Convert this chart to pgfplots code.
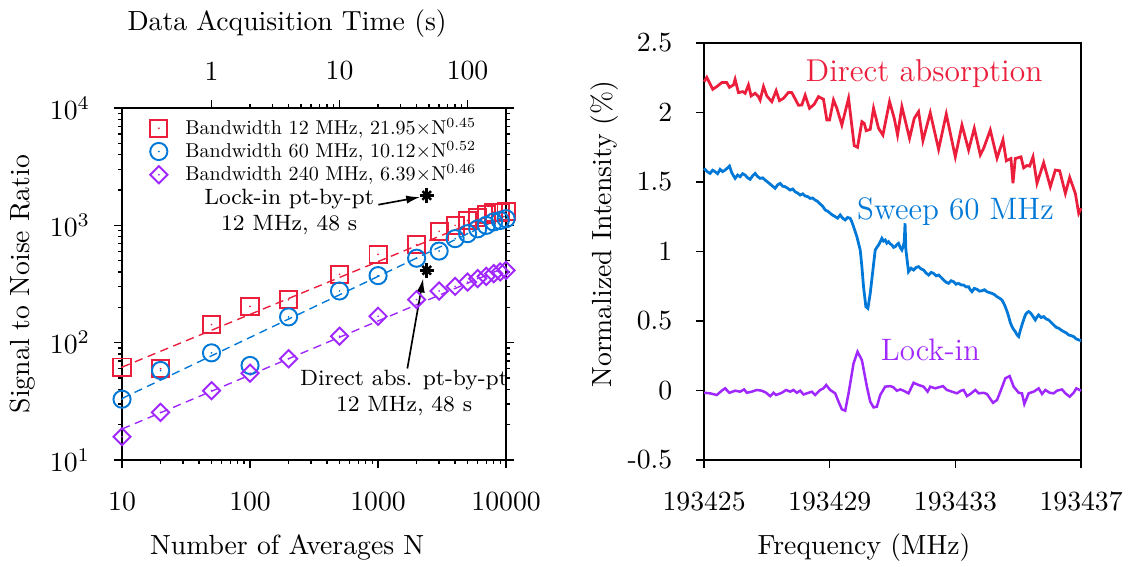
\documentclass[border=0pt]{standalone}
\usepackage{graphicx}
\usepackage{pgfplots}
\pgfplotsset{compat=1.18}
\usetikzlibrary{arrows.meta}
\definecolor{cred}{RGB}{235,30,60}
\definecolor{cblue}{RGB}{0,120,215}
\definecolor{cpurp}{RGB}{160,40,255}
\newcommand\legtxt[1]{\scalebox{0.724}{#1}}

\pgfdeclareplotmark{dsquare}{%
  \pgfpathrectangle{\pgfqpoint{-\pgfplotmarksize}{-\pgfplotmarksize}}{\pgfqpoint{2\pgfplotmarksize}{2\pgfplotmarksize}}%
  \pgfusepathqstroke
  \pgfpathcircle{\pgfpointorigin}{0.35pt}\pgfusepathqfill}
\pgfdeclareplotmark{dcircle}{%
  \pgfpathcircle{\pgfpointorigin}{\pgfplotmarksize}%
  \pgfusepathqstroke
  \pgfpathcircle{\pgfpointorigin}{0.35pt}\pgfusepathqfill}
\pgfdeclareplotmark{ddiamond}{%
  \pgfpathmoveto{\pgfqpoint{0pt}{\pgfplotmarksize}}%
  \pgfpathlineto{\pgfqpoint{\pgfplotmarksize}{0pt}}%
  \pgfpathlineto{\pgfqpoint{0pt}{-\pgfplotmarksize}}%
  \pgfpathlineto{\pgfqpoint{-\pgfplotmarksize}{0pt}}%
  \pgfpathclose
  \pgfusepathqstroke
  \pgfpathcircle{\pgfpointorigin}{0.35pt}\pgfusepathqfill}

\pgfplotsset{
  every axis/.append style={
    tick align=outside,
    major tick length=3pt,
    minor tick length=1.5pt,
    axis line style={line width=0.6pt},
    every tick/.style={black, line width=0.5pt},
    xticklabel style={yshift=-5pt},
    yticklabel style={xshift=-5pt},
  }
}

\begin{document}
\begin{tikzpicture}
\useasboundingbox (0,0) rectangle (412pt,204.4pt);

% ---------- left panel: top axis (time) ----------
\begin{axis}[
  at={(44.06pt,38.28pt)}, anchor=south west,
  scale only axis, width=138.68pt, height=127.12pt,
  xmode=log, xmin=0.2, xmax=200, ymin=0, ymax=1,
  axis x line*=top, axis y line=none,
  xtick={1,10,100}, xticklabels={1,10,100},
  xticklabel style={yshift=8.5pt},
  xlabel={Data Acquisition Time (s)},
  xlabel style={at={(axis description cs:0.43,1.240)}, anchor=center},
]
\end{axis}

% ---------- left panel: main ----------
\begin{axis}[
  at={(44.06pt,38.28pt)}, anchor=south west,
  scale only axis, width=138.68pt, height=127.12pt,
  xmode=log, ymode=log,
  xmin=10, xmax=10000, ymin=10, ymax=10000,
  xtick={10,100,1000,10000}, xticklabels={10,100,1000,10000},
  ytick={10,100,1000,10000},
  xtick pos=bottom, ytick pos=both,
  xlabel={Number of Averages N},
  ylabel={Signal to Noise Ratio},
  xlabel style={at={(axis description cs:0.43,-0.247)}, anchor=center},
  ylabel style={at={(axis description cs:-0.26,0.5)}, anchor=center},
  clip=false,
  legend style={draw=none, fill=none, at={(axis description cs:0.072,0.985)}, anchor=north west,
    row sep=-2pt, column sep=5pt, inner sep=0pt,
    nodes={inner sep=1.5pt}},
  legend cell align=left,
]
% fits
\addplot[forget plot, cred, dashed, dash pattern=on 3pt off 2pt, line width=0.5pt] coordinates {(10,61.9) (10000,1385)};
\addplot[forget plot, cblue, dashed, dash pattern=on 3pt off 2pt, line width=0.5pt] coordinates {(10,33.5) (10000,1216)};
\addplot[forget plot, cpurp, dashed, dash pattern=on 3pt off 2pt, line width=0.5pt] coordinates {(10,18.4) (10000,442)};
% data
\addplot[only marks, color=cred, mark=dsquare, mark size=3.1pt, mark options={line width=0.7pt}] coordinates {
(10,62) (20,60) (50,143) (100,204) (200,233) (500,383) (1000,566) (2000,685)
(3000,889) (4000,1000) (5000,1100) (6000,1170) (7000,1240) (8000,1290) (9000,1290) (10000,1320)};
\addlegendentry{\legtxt{Bandwidth 12 MHz, 21.95$\times$N$^{0.45}$}}
\addplot[only marks, color=cblue, mark=dcircle, mark size=3.1pt, mark options={line width=0.7pt}] coordinates {
(10,33) (20,58) (50,82) (100,64) (200,166) (500,276) (1000,373) (2000,525)
(3000,604) (4000,771) (5000,850) (6000,935) (7000,1000) (8000,1070) (9000,1100) (10000,1140)};
\addlegendentry{\legtxt{Bandwidth 60 MHz, 10.12$\times$N$^{0.52}$}}
\addplot[only marks, color=cpurp, mark=ddiamond, mark size=3.1pt, mark options={line width=0.7pt}] coordinates {
(10,15.8) (20,25.5) (50,39) (100,55) (200,73) (500,113.6) (1000,168) (2000,233)
(3000,276) (4000,302) (5000,329) (6000,352) (7000,368) (8000,388) (9000,401) (10000,414)};
\addlegendentry{\legtxt{Bandwidth 240 MHz, 6.39$\times$N$^{0.46}$}}
% point-by-point stars
\addplot[forget plot, only marks, black, mark=+, mark size=2.6pt, mark options={line width=0.9pt}] coordinates {(2400,1800) (2400,414)};
\addplot[forget plot, only marks, black, mark=x, mark size=2.2pt, mark options={line width=0.9pt}] coordinates {(2400,1800) (2400,414)};
\draw[-{Latex[length=5pt,width=3pt]}, line width=0.6pt] (axis cs:1005,1500) -- (axis cs:2128,1742);
\draw[-{Latex[length=5pt,width=3pt]}, line width=0.6pt] (axis cs:1694,60.3) -- (axis cs:2249,352);
\node[align=center, font=\fontsize{8}{9.4}\selectfont] at (axis cs:202,1291) {Lock-in pt-by-pt\\12 MHz, 48 s};
\node[align=center, font=\fontsize{8}{9.4}\selectfont] at (axis cs:1596,37.5) {Direct abs. pt-by-pt\\12 MHz, 48 s};
\end{axis}

% ---------- right panel ----------
\begin{axis}[
  at={(254.24pt,38.28pt)}, anchor=south west,
  scale only axis, width=136.15pt, height=150.6pt,
  xmin=193425, xmax=193437, ymin=-0.5, ymax=2.5,
  xtick={193425,193429,193433,193437}, xticklabels={193425,193429,193433,193437},
  ytick={-0.5,0,0.5,1,1.5,2,2.5}, yticklabels={-0.5,0,0.5,1,1.5,2,2.5},
  scaled x ticks=false,
  xtick pos=bottom, ytick pos=left,
  xlabel={Frequency (MHz)},
  ylabel={Normalized Intensity (\%)},
  xlabel style={at={(axis description cs:0.424,-0.211)}, anchor=center},
  ylabel style={at={(axis description cs:-0.263,0.542)}, anchor=center},
  clip=false,
]
\addplot[cred, line width=1.0pt] coordinates {
(193425.000,2.222) (193425.085,2.253) (193425.276,2.167) (193425.403,2.186) (193425.563,2.215)
(193425.722,2.215) (193425.807,2.181) (193425.934,2.198) (193425.987,2.239) (193426.093,2.143)
(193426.231,2.150) (193426.306,2.138) (193426.412,2.198) (193426.497,2.119) (193426.624,2.138)
(193426.730,2.114) (193426.783,2.090) (193426.890,2.186) (193426.996,2.119) (193427.155,2.078)
(193427.293,2.157) (193427.399,2.085) (193427.527,2.102) (193427.686,2.145) (193427.792,2.143)
(193428.004,2.052) (193428.110,2.054) (193428.217,2.124) (193428.355,2.030) (193428.503,2.059)
(193428.641,2.114) (193428.800,2.095) (193428.907,1.946) (193428.992,1.946) (193429.119,2.090)
(193429.225,2.030) (193429.384,1.910) (193429.597,2.102) (193429.777,1.762) (193429.883,1.750)
(193430.021,1.934) (193430.096,1.922) (193430.159,1.869) (193430.287,1.879) (193430.393,2.030)
(193430.552,1.886) (193430.690,1.838) (193430.902,2.078) (193431.051,1.958) (193431.157,1.838)
(193431.295,2.042) (193431.539,1.814) (193431.688,1.958) (193431.826,2.006) (193431.964,1.797)
(193432.197,1.998) (193432.463,1.735) (193432.707,1.989) (193432.994,1.681) (193433.206,1.910)
(193433.418,1.730) (193433.599,1.886) (193433.790,1.695) (193433.896,1.742) (193434.108,1.874)
(193434.321,1.671) (193434.512,1.803) (193434.618,1.653) (193434.766,1.669) (193434.830,1.491)
(193434.904,1.669) (193435.085,1.681) (193435.170,1.602) (193435.276,1.619) (193435.361,1.614)
(193435.467,1.681) (193435.594,1.491) (193435.807,1.639) (193436.019,1.466) (193436.178,1.586)
(193436.316,1.581) (193436.497,1.418) (193436.635,1.533) (193436.815,1.418) (193436.921,1.275)
(193436.996,1.311)};
\addplot[cblue, line width=1.0pt] coordinates {
(193425.000,1.598) (193425.095,1.575) (193425.191,1.562) (193425.270,1.585) (193425.350,1.574)
(193425.430,1.560) (193425.510,1.591) (193425.590,1.575) (193425.669,1.586) (193425.740,1.600)
(193425.807,1.615) (193425.845,1.590) (193425.881,1.567) (193425.935,1.545) (193425.987,1.526)
(193426.066,1.550) (193426.146,1.538) (193426.226,1.560) (193426.306,1.550) (193426.385,1.530)
(193426.465,1.519) (193426.545,1.545) (193426.624,1.562) (193426.700,1.540) (193426.783,1.526)
(193426.863,1.530) (193426.943,1.514) (193427.020,1.500) (193427.102,1.485) (193427.180,1.470)
(193427.261,1.455) (193427.340,1.480) (193427.420,1.490) (193427.500,1.470) (193427.580,1.466)
(193427.660,1.455) (193427.739,1.442) (193427.820,1.450) (193427.898,1.430) (193427.980,1.420)
(193428.057,1.406) (193428.140,1.415) (193428.217,1.399) (193428.300,1.395) (193428.376,1.382)
(193428.455,1.385) (193428.535,1.370) (193428.615,1.360) (193428.694,1.342) (193428.775,1.325)
(193428.854,1.299) (193428.935,1.290) (193429.013,1.275) (193429.090,1.262) (193429.172,1.251)
(193429.250,1.240) (193429.331,1.263) (193429.410,1.240) (193429.490,1.227) (193429.570,1.245)
(193429.650,1.239) (193429.700,1.215) (193429.756,1.179) (193429.862,1.107) (193429.968,1.011)
(193430.021,0.891) (193430.074,0.747) (193430.149,0.603) (193430.212,0.591) (193430.287,0.699)
(193430.372,0.867) (193430.446,1.011) (193430.500,1.030) (193430.552,1.047) (193430.605,1.070)
(193430.658,1.095) (193430.710,1.075) (193430.764,1.083) (193430.817,1.060) (193430.870,1.071)
(193430.925,1.055) (193430.977,1.047) (193431.030,1.030) (193431.083,1.035) (193431.136,1.050)
(193431.189,1.059) (193431.240,1.030) (193431.295,1.011) (193431.340,1.040) (193431.369,1.071)
(193431.395,1.203) (193431.410,1.100) (193431.423,1.011) (193431.454,0.951) (193431.507,0.855)
(193431.587,0.880) (193431.667,0.867) (193431.745,0.885) (193431.826,0.891) (193431.905,0.875)
(193431.985,0.867) (193432.065,0.845) (193432.144,0.831) (193432.225,0.850) (193432.304,0.843)
(193432.385,0.825) (193432.463,0.831) (193432.540,0.815) (193432.622,0.795) (193432.700,0.780)
(193432.781,0.771) (193432.860,0.790) (193432.941,0.783) (193433.020,0.765) (193433.100,0.771)
(193433.180,0.760) (193433.259,0.759) (193433.340,0.745) (193433.418,0.747) (193433.470,0.725)
(193433.524,0.711) (193433.600,0.735) (193433.684,0.728) (193433.765,0.715) (193433.843,0.718)
(193433.920,0.725) (193434.002,0.711) (193434.080,0.705) (193434.161,0.699) (193434.240,0.690)
(193434.321,0.675) (193434.400,0.665) (193434.480,0.651) (193434.530,0.630) (193434.586,0.603)
(193434.640,0.570) (193434.692,0.532) (193434.745,0.490) (193434.798,0.460) (193434.850,0.440)
(193434.904,0.424) (193434.960,0.400) (193435.011,0.388) (193435.060,0.430) (193435.117,0.472)
(193435.170,0.510) (193435.223,0.544) (193435.276,0.560) (193435.329,0.568) (193435.380,0.560)
(193435.435,0.544) (193435.490,0.525) (193435.541,0.508) (193435.595,0.530) (193435.648,0.544)
(193435.725,0.525) (193435.807,0.532) (193435.885,0.515) (193435.966,0.508) (193436.045,0.490)
(193436.125,0.472) (193436.205,0.455) (193436.285,0.448) (193436.365,0.435) (193436.444,0.424)
(193436.525,0.415) (193436.603,0.400) (193436.680,0.395) (193436.762,0.388) (193436.840,0.372)
(193436.921,0.364) (193437.000,0.359)};
\addplot[cpurp, line width=0.9pt] coordinates {
(193425.000,-0.016) (193425.191,-0.020) (193425.403,-0.032) (193425.563,-0.001) (193425.669,0.016)
(193425.807,-0.016) (193425.987,-0.001) (193426.146,-0.008) (193426.274,0.008) (193426.359,-0.016)
(193426.518,-0.008) (193426.677,0.004) (193426.837,-0.001) (193426.975,-0.016) (193427.102,-0.040)
(193427.208,-0.016) (193427.293,-0.032) (193427.473,-0.016) (193427.611,0.004) (193427.739,-0.008)
(193427.845,0.004) (193427.951,-0.016) (193428.057,-0.001) (193428.163,-0.028) (193428.323,-0.016)
(193428.429,-0.008) (193428.535,-0.032) (193428.694,0.004) (193428.800,0.016) (193428.885,0.040)
(193429.013,0.004) (193429.172,-0.020) (193429.278,-0.080) (193429.384,-0.135) (193429.490,-0.145)
(193429.597,-0.020) (193429.756,0.195) (193429.883,0.279) (193430.021,0.219) (193430.180,0.028)
(193430.287,-0.080) (193430.393,-0.121) (193430.499,-0.116) (193430.605,-0.032) (193430.764,0.028)
(193430.924,0.032) (193431.030,0.023) (193431.136,-0.001) (193431.242,0.008) (193431.348,-0.001)
(193431.507,-0.020) (193431.667,0.056) (193431.826,0.040) (193431.985,0.028) (193432.113,-0.008)
(193432.197,0.028) (193432.357,0.016) (193432.463,0.023) (193432.601,0.032) (193432.728,0.004)
(193432.887,-0.008) (193433.047,-0.020) (193433.174,-0.001) (193433.259,0.004) (193433.365,-0.040)
(193433.471,-0.025) (193433.631,0.004) (193433.737,-0.020) (193433.896,-0.016) (193434.002,-0.025)
(193434.193,-0.088) (193434.321,-0.068) (193434.448,0.004) (193434.586,0.088) (193434.724,0.104)
(193434.851,0.028) (193435.011,-0.016) (193435.117,-0.020) (193435.191,-0.097) (193435.329,-0.020)
(193435.488,-0.008) (193435.648,0.016) (193435.754,-0.025) (193435.860,0.004) (193435.998,-0.016)
(193436.125,-0.020) (193436.231,-0.001) (193436.391,0.008) (193436.497,-0.020) (193436.635,-0.044)
(193436.762,-0.016) (193436.847,0.016) (193436.996,-0.001)};
\node[cred, anchor=base, font=\fontsize{11.4}{13}\selectfont] at (axis cs:193432.0,2.222) {Direct absorption};
\node[cblue, anchor=base, font=\fontsize{11.2}{13}\selectfont] at (axis cs:193433.0,1.227) {Sweep 60 MHz};
\node[cpurp, anchor=base, font=\fontsize{11.2}{13}\selectfont] at (axis cs:193432.2,0.219) {Lock-in};
\end{axis}
\end{tikzpicture}
\end{document}
